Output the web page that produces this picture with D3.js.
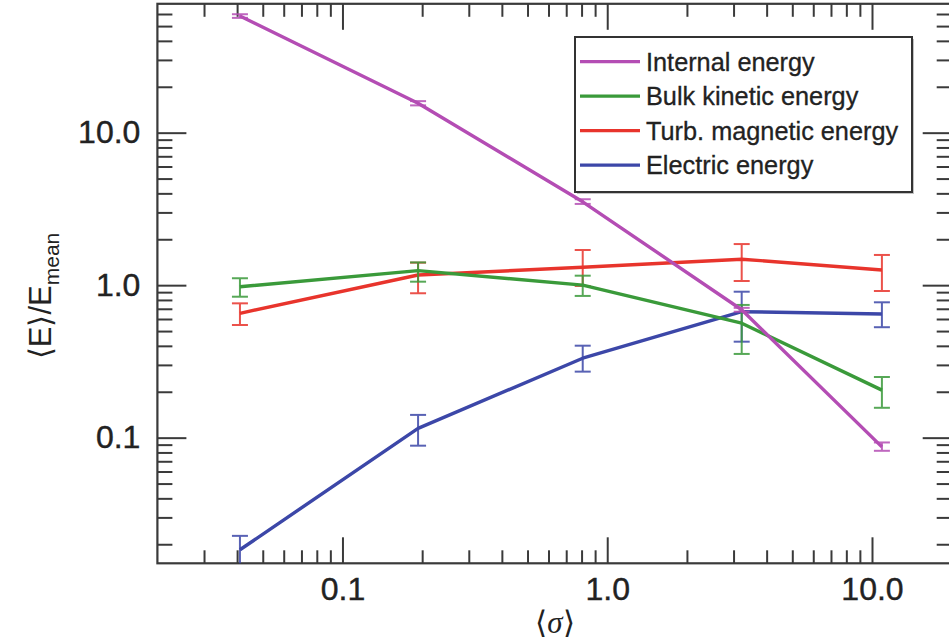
<!DOCTYPE html>
<html>
<head>
<meta charset="utf-8">
<script src="https://cdn.jsdelivr.net/npm/d3@7"></script>
<style>
  body { margin: 0; background: #fff; }
  svg { display: block; }
</style>
</head>
<body>
<svg id="chart" width="949" height="641"></svg>
<script>
// Mean magnetization <sigma> of each run
const sigma = [0.041, 0.193, 0.808, 3.22, 10.9];

// <E>/E_mean for each energy component, with lower / upper error bounds
const internalMean = [58.2, 15.6, 3.52, 0.69, 0.087];
const internalLo   = [56.6, 15.1, 3.41, 0.67, 0.082];
const internalHi   = [59.8, 16.1, 3.66, 0.71, 0.093];

const bulkMean = [0.977, 1.245, 1.00, 0.563, 0.205];
const bulkLo   = [0.84, 1.054, 0.85, 0.354, 0.157];
const bulkHi   = [1.11, 1.41, 1.154, 0.742, 0.25];

const turbMean = [0.654, 1.166, 1.31, 1.48, 1.258];
const turbLo   = [0.548, 0.885, 0.988, 1.065, 0.916];
const turbHi   = [0.76, 1.405, 1.70, 1.86, 1.578];

const elecMean = [0.0184, 0.115, 0.332, 0.67, 0.647];
const elecLo   = [0.0140, 0.0886, 0.271, 0.426, 0.530];
const elecHi   = [0.0227, 0.141, 0.401, 0.906, 0.772];

const seriesNames  = ["Internal energy", "Bulk kinetic energy", "Turb. magnetic energy", "Electric energy"];
const seriesColors = ["#b44db4", "#3a9a3a", "#e8342c", "#3c47a8"];

// Axis ticks
const xMajor = [0.1, 1, 10];
const xMinor = [0.03, 0.04, 0.05, 0.06, 0.07, 0.08, 0.09,
                0.2, 0.3, 0.4, 0.5, 0.6, 0.7, 0.8, 0.9,
                2, 3, 4, 5, 6, 7, 8, 9];
const yMajor = [0.1, 1, 10];
const yMinor = [0.02, 0.03, 0.04, 0.05, 0.06, 0.07, 0.08, 0.09,
                0.2, 0.3, 0.4, 0.5, 0.6, 0.7, 0.8, 0.9,
                2, 3, 4, 5, 6, 7, 8, 9,
                20, 30, 40, 50, 60];
const tickLabels = ["0.1", "1.0", "10.0"];

const series = [
  { mean: internalMean, lo: internalLo, hi: internalHi },
  { mean: bulkMean, lo: bulkLo, hi: bulkHi },
  { mean: turbMean, lo: turbLo, hi: turbHi },
  { mean: elecMean, lo: elecLo, hi: elecHi }
].map((s, i) => ({ ...s, name: seriesNames[i], color: seriesColors[i] }));

const svg = d3.select("#chart");
const pLeft = 157.4, pRight = 951.7, pTop = 3.8, pBottom = 563.3;

const x = d3.scaleLog().domain([0.02, 20]).range([pLeft, pRight]);
const y = d3.scaleLog().domain([0.015, 70]).range([pBottom, pTop]);

const labelFont = "Helvetica, Arial, 'Liberation Sans', sans-serif";
const axisColor = "#3a3a3a";

svg.append("defs").append("clipPath").attr("id", "plotClip")
  .append("rect").attr("x", pLeft).attr("y", pTop)
  .attr("width", pRight - pLeft).attr("height", pBottom - pTop);

// Inward-pointing ticks on all four sides
function styleAxis(g) {
  g.select(".domain").remove();
  g.selectAll(".tick line").attr("stroke", axisColor).attr("stroke-width", 2);
  g.selectAll("text").attr("fill", "#222").attr("font-family", labelFont)
    .attr("font-size", 32).attr("stroke", "#222").attr("stroke-width", 0.4);
}
const fmt = d => tickLabels[xMajor.indexOf(d)];

svg.append("g").attr("transform", `translate(0,${pBottom})`)
  .call(d3.axisBottom(x).tickValues(xMajor).tickSize(-26).tickPadding(14).tickFormat(fmt))
  .call(styleAxis);
svg.append("g").attr("transform", `translate(0,${pBottom})`)
  .call(d3.axisBottom(x).tickValues(xMinor).tickSize(-13).tickFormat(""))
  .call(styleAxis);
svg.append("g").attr("transform", `translate(0,${pTop})`)
  .call(d3.axisTop(x).tickValues(xMajor).tickSize(-26).tickFormat(""))
  .call(styleAxis);
svg.append("g").attr("transform", `translate(0,${pTop})`)
  .call(d3.axisTop(x).tickValues(xMinor).tickSize(-13).tickFormat(""))
  .call(styleAxis);

const yfmt = d => tickLabels[yMajor.indexOf(d)];
svg.append("g").attr("transform", `translate(${pLeft},0)`)
  .call(d3.axisLeft(y).tickValues(yMajor).tickSize(-29).tickPadding(17).tickFormat(yfmt))
  .call(styleAxis);
svg.append("g").attr("transform", `translate(${pLeft},0)`)
  .call(d3.axisLeft(y).tickValues(yMinor).tickSize(-15).tickFormat(""))
  .call(styleAxis);
svg.append("g").attr("transform", `translate(${pRight},0)`)
  .call(d3.axisRight(y).tickValues(yMajor).tickSize(-29).tickFormat(""))
  .call(styleAxis);
svg.append("g").attr("transform", `translate(${pRight},0)`)
  .call(d3.axisRight(y).tickValues(yMinor).tickSize(-15).tickFormat(""))
  .call(styleAxis);

// Plot frame
svg.append("rect")
  .attr("x", pLeft).attr("y", pTop)
  .attr("width", pRight - pLeft).attr("height", pBottom - pTop)
  .attr("fill", "none").attr("stroke", axisColor).attr("stroke-width", 2.2);

// Series lines and error bars
const plot = svg.append("g").attr("clip-path", "url(#plotClip)");
const line = d3.line().x(d => x(d.s)).y(d => y(d.v));
const capHalf = 8;

series.slice().reverse().forEach(s => {
  const pts = sigma.map((sv, i) => ({ s: sv, v: s.mean[i], lo: s.lo[i], hi: s.hi[i] }));
  const g = plot.append("g");
  const eb = g.selectAll("g.err").data(pts).join("g").attr("class", "err")
    .attr("stroke", s.color).attr("stroke-width", 2).attr("opacity", 0.85);
  eb.append("line")
    .attr("x1", d => x(d.s)).attr("x2", d => x(d.s))
    .attr("y1", d => y(d.lo)).attr("y2", d => y(d.hi));
  eb.append("line")
    .attr("x1", d => x(d.s) - capHalf).attr("x2", d => x(d.s) + capHalf)
    .attr("y1", d => y(d.lo)).attr("y2", d => y(d.lo));
  eb.append("line")
    .attr("x1", d => x(d.s) - capHalf).attr("x2", d => x(d.s) + capHalf)
    .attr("y1", d => y(d.hi)).attr("y2", d => y(d.hi));
  g.append("path").datum(pts)
    .attr("d", line).attr("fill", "none")
    .attr("stroke", s.color).attr("stroke-width", 3.4)
    .attr("stroke-linejoin", "round");
});

// Legend
const lg = svg.append("g").attr("transform", "translate(575,37)");
lg.append("rect").attr("x", 2).attr("y", 2).attr("width", 337).attr("height", 155)
  .attr("fill", "#888").attr("opacity", 0.5);
lg.append("rect").attr("width", 337).attr("height", 155)
  .attr("fill", "#fff").attr("stroke", "#333").attr("stroke-width", 2);
series.forEach((s, i) => {
  const cy = 24.7 + i * 34.5;
  lg.append("line").attr("x1", 5).attr("x2", 65).attr("y1", cy).attr("y2", cy)
    .attr("stroke", s.color).attr("stroke-width", 3.2);
  lg.append("text").attr("x", 71).attr("y", cy).attr("dy", "0.36em")
    .attr("font-family", labelFont).attr("font-size", 25.3).attr("fill", "#222")
    .attr("stroke", "#222").attr("stroke-width", 0.3)
    .text(s.name);
});

// Axis titles
const xt = svg.append("text").attr("x", 555).attr("y", 633)
  .attr("text-anchor", "middle").attr("font-family", labelFont)
  .attr("font-size", 31).attr("fill", "#222");
xt.append("tspan").text("\u27E8");
xt.append("tspan").attr("font-family", "'Liberation Serif', 'DejaVu Serif', serif")
  .attr("font-style", "italic").text("\u03C3");
xt.append("tspan").text("\u27E9");

const yt = svg.append("text").attr("transform", "translate(51,296) rotate(-90)")
  .attr("text-anchor", "middle").attr("font-family", labelFont)
  .attr("font-size", 31).attr("fill", "#222");
yt.append("tspan").text("\u27E8E\u27E9/E");
yt.append("tspan").attr("font-size", 21).attr("dy", 8).text("mean");
</script>
</body>
</html>
